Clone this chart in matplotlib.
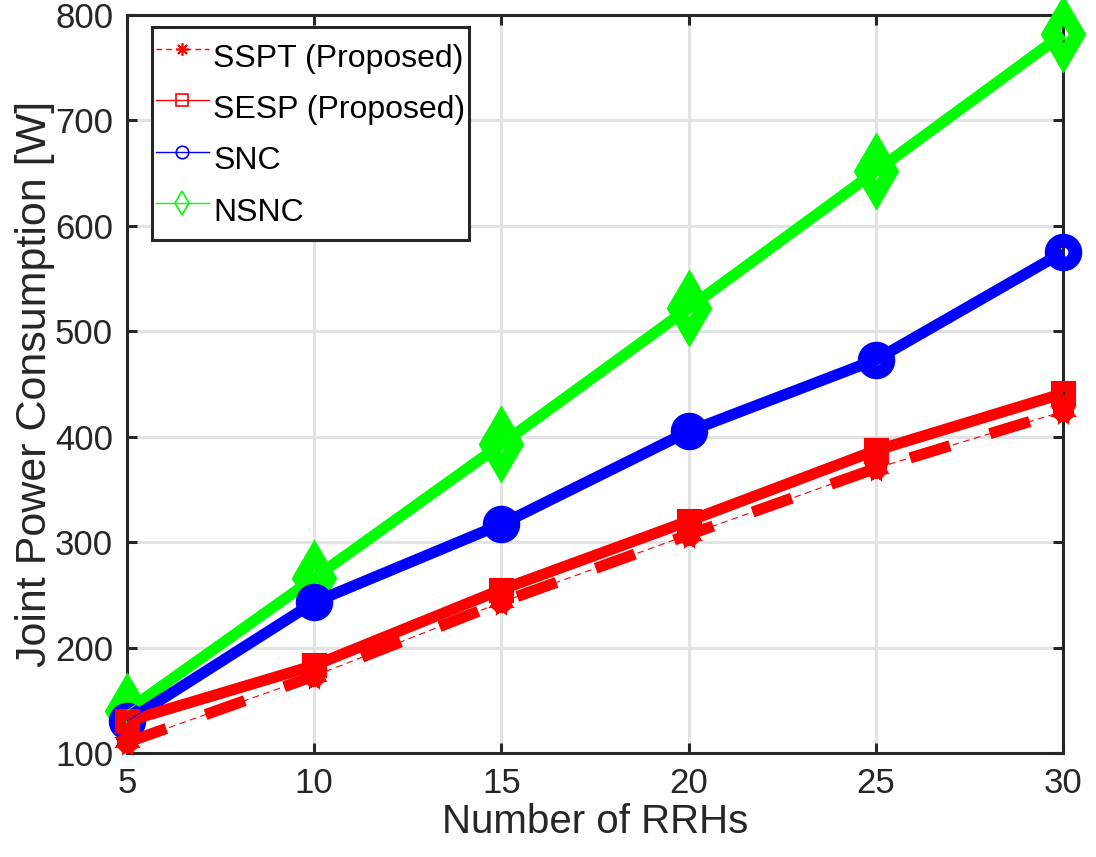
import matplotlib
matplotlib.use("Agg")
import matplotlib.pyplot as plt
from matplotlib.lines import Line2D
from matplotlib.markers import MarkerStyle

plt.rcParams['font.family'] = ['Liberation Sans', 'DejaVu Sans']

n_rrh = [5, 10, 15, 20, 25, 30]
sspt = [110, 173, 243, 307, 370, 424]
sesp = [130, 183, 255, 320, 387, 441]
snc = [130, 243, 317, 405, 473, 575]
nsnc = [140, 266, 393, 522, 652, 782]

labels = ['SSPT (Proposed)', 'SESP (Proposed)', 'SNC', 'NSNC']
x_ticks = [5, 10, 15, 20, 25, 30]
y_ticks = [100, 200, 300, 400, 500, 600, 700, 800]

ASTER = (8, 2, 0)
styles = {
    'SSPT (Proposed)': dict(color=(1, 0, 0), marker=ASTER, ls='--', ms=15, mew=8, lms=9),
    'SESP (Proposed)': dict(color=(1, 0, 0), marker='s', ls='-', ms=10, mew=8, lms=8),
    'SNC': dict(color=(0, 0, 1), marker='o', ls='-', ms=17, mew=10, lms=9),
    'NSNC': dict(color=(0, 1, 0), marker='d', ls='-', ms=24, mew=11, lms=12),
}
data = {'SSPT (Proposed)': sspt, 'SESP (Proposed)': sesp, 'SNC': snc, 'NSNC': nsnc}

fig = plt.figure(figsize=(10.96, 8.57), dpi=100)
ax = fig.add_axes([0.1159, 0.1214, 0.8541, 0.8611])

for lab in ['NSNC', 'SNC', 'SESP (Proposed)', 'SSPT (Proposed)']:
    st = styles[lab]
    y = data[lab]
    mk = MarkerStyle(st['marker'], joinstyle='miter')
    kw = dict(color=st['color'], lw=8, marker=mk, ms=st['ms'],
              mew=st['mew'], mfc='none', mec=st['color'], solid_capstyle='butt',
              dash_capstyle='butt', zorder=3, clip_on=False)
    if st['ls'] == '--':
        ax.plot(n_rrh, y, linestyle=(0, (3.75, 3.75)), **kw)
        ax.plot(n_rrh, y, color=st['color'], lw=0.8, ls=(0, (6, 4)), zorder=4)
    else:
        ax.plot(n_rrh, y, linestyle='-', **kw)
        ax.plot(n_rrh, y, color=st['color'], lw=0.8, ls='-', zorder=4)

ax.set_xlim(5, 30)
ax.set_ylim(100, 800)
ax.set_xticks(x_ticks)
ax.set_yticks(y_ticks)
ax.grid(True, color='#e3e3e3', lw=2.2, zorder=0)
ax.set_axisbelow(True)
for sp in ax.spines.values():
    sp.set_linewidth(2.2)
    sp.set_color('#262626')
ax.tick_params(direction='in', length=7, width=2.2, color='#262626',
               labelsize=25, labelcolor='#262626', top=True, right=True)
ax.tick_params(axis='x', pad=10)
ax.tick_params(axis='y', pad=10)
ax.set_xlabel('Number of RRHs', fontsize=29, color='#262626', labelpad=2)
ax.set_ylabel('Joint Power Consumption [W]', fontsize=31, color='#262626', labelpad=0)

handles = []
for lab in labels:
    st = styles[lab]
    handles.append(Line2D([0], [0], color=st['color'], lw=1,
                          ls=(0, (4, 3)) if st['ls'] == '--' else '-',
                          marker=st['marker'], ms=st['lms'],
                          mfc='none', mec=st['color'], mew=1.2))
leg = ax.legend(handles, labels, loc='upper left', bbox_to_anchor=(0.0267, 0.9837),
                borderaxespad=0, fontsize=23, frameon=True,
                fancybox=False, edgecolor='#262626', framealpha=1,
                handlelength=1.65, handleheight=2.1, handletextpad=0.15,
                labelspacing=0.0, borderpad=0.12)
leg.get_frame().set_linewidth(2.2)
leg.set_zorder(10)
for t in leg.get_texts():
    t.set_color('black')

fig.savefig('out.png', dpi=100)
